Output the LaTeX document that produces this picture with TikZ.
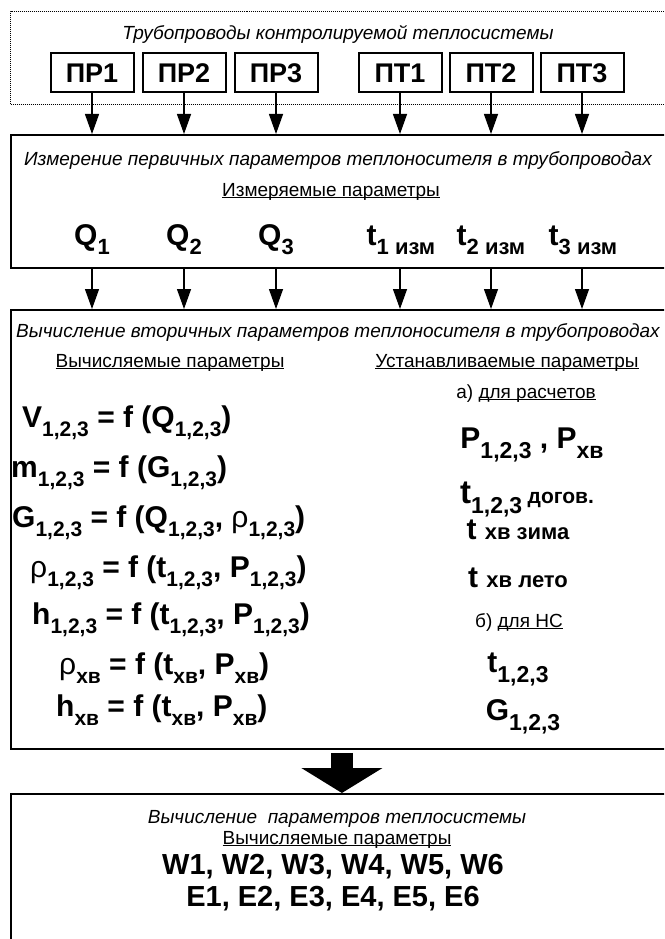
\documentclass[tikz,border=0pt]{standalone}
\usepackage{fontspec}
\setmainfont{Liberation Sans}
\usetikzlibrary{arrows.meta}
\newcommand\fsz[1]{\fontsize{#1}{#1}\selectfont}
\newcommand\ul[1]{\underline{\smash{#1}}}
% subscripts
\newcommand\fs[1]{\raisebox{-9pt}{\fsz{21}#1}}
\newcommand\qs[1]{\raisebox{-9pt}{\fsz{22}#1}}
\newcommand\ps[1]{\raisebox{-10pt}{\fsz{23}#1}}
\newcommand\rh{{\mdseries ρ}}
\begin{document}
\begin{tikzpicture}[x=1pt,y=-1pt,
  pbox/.style={draw,line width=2pt,minimum width=83pt,minimum height=39pt,inner sep=0pt,font=\bfseries\fsz{27}},
  bigbox/.style={draw,line width=1.8pt,inner sep=0pt,anchor=north west,minimum width=656pt},
  txt/.style={inner sep=0pt,anchor=base},
  ital/.style={txt,font=\itshape\fsz{19}},
  reg/.style={txt,font=\fsz{19}},
  frm/.style={inner sep=0pt,anchor=base west,font=\bfseries\fsz{30}},
  big/.style={txt,font=\bfseries\fsz{30}},
  arr/.style={line width=1.3pt,-{Triangle[length=20pt,width=14pt]}}]
\fill[white] (0,0) rectangle (664,939);
\useasboundingbox (0,0) rectangle (664,939);
\clip (0,0) rectangle (664,939);
% top dotted frame
\node[draw,densely dotted,line width=1pt,anchor=north west,minimum width=656pt,minimum height=93pt,inner sep=0pt] (pipes) at (10,11) {};
\node[ital] (ttop) at (338,40) {Трубопроводы контролируемой теплосистемы};
\node[pbox] (pr1) at (92,73) {ПР1};
\node[pbox] (pr2) at (184,73) {ПР2};
\node[pbox] (pr3) at (276,73) {ПР3};
\node[pbox] (pt1) at (400,73) {ПТ1};
\node[pbox] (pt2) at (491,73) {ПТ2};
\node[pbox] (pt3) at (582,73) {ПТ3};
% measurement box
\node[bigbox,minimum height=133pt] (meas) at (10,134) {};
\node[ital] (tmeas) at (338,165) {Измерение первичных параметров теплоносителя в трубопроводах};
\node[reg] (umeas) at (331,196) {\ul{Измеряемые параметры}};
\node[txt,font=\bfseries\fsz{30}] (q1) at (92,245) {Q\qs{1}};
\node[txt,font=\bfseries\fsz{30}] (q2) at (184,245) {Q\qs{2}};
\node[txt,font=\bfseries\fsz{30}] (q3) at (276,245) {Q\qs{3}};
\node[txt,font=\bfseries\fsz{30}] (t1) at (401,245) {t\qs{1 изм}};
\node[txt,font=\bfseries\fsz{30}] (t2) at (491,245) {t\qs{2 изм}};
\node[txt,font=\bfseries\fsz{30}] (t3) at (583,245) {t\qs{3 изм}};
% calculation box
\node[bigbox,minimum height=439pt] (calc) at (10,309) {};
\node[ital] (tcalc) at (338,337) {Вычисление вторичных параметров теплоносителя в трубопроводах};
\node[reg] (ucalc) at (170,367) {\ul{Вычисляемые параметры}};
\node[reg] (uset) at (507,367) {\ul{Устанавливаемые параметры}};
\node[reg] (ua) at (526,398) {а) \ul{для расчетов}};
\node[frm] (fV) at (22,427) {V\fs{1,2,3} = f (Q\fs{1,2,3})};
\node[frm] (fm) at (11,477) {m\fs{1,2,3} = f (G\fs{1,2,3})};
\node[frm] (fG) at (12,527) {G\fs{1,2,3} = f (Q\fs{1,2,3}, \rh\fs{1,2,3})};
\node[frm] (fr) at (30,577) {\rh\fs{1,2,3} = f (t\fs{1,2,3}, P\fs{1,2,3})};
\node[frm] (fh) at (32,624) {h\fs{1,2,3} = f (t\fs{1,2,3}, P\fs{1,2,3})};
\node[frm] (frx) at (59,674) {\rh\fs{хв} = f (t\fs{хв}, P\fs{хв})};
\node[frm] (fhx) at (56,716) {h\fs{хв} = f (t\fs{хв}, P\fs{хв})};
\node[big] (sP) at (532,448) {P\ps{1,2,3} , P\ps{хв}};
\node[txt,font=\bfseries\fsz{33}] (sT) at (527,503) {t\ps{1,2,3}\,{\fsz{21}догов.}};
\node[big] (sW) at (518,539) {t {\fsz{22}хв зима}};
\node[big] (sS) at (518,587) {t {\fsz{22}хв лето}};
\node[reg] (ub) at (519,627) {б) \ul{для НС}};
\node[big] (st) at (518,672) {t\ps{1,2,3}};
\node[big] (sG) at (523,720) {G\ps{1,2,3}};
% final box
\node[bigbox,minimum height=150pt] (final) at (10,793) {};
\node[ital] (tfin) at (337,823) {Вычисление\ \ параметров теплосистемы};
\node[reg] (ufin) at (337,844) {\ul{Вычисляемые параметры}};
\node[txt,font=\bfseries\fsz{29}] (wrow) at (333,874) {W1, W2, W3, W4, W5, W6};
\node[txt,font=\bfseries\fsz{29}] (erow) at (333,906) {E1, E2, E3, E4, E5, E6};
% arrows
\foreach \n in {pr1,pr2,pr3,pt1,pt2,pt3}{
  \draw[arr] (\n.south) -- (\n.south |- meas.north);
  \draw[arr] (\n |- meas.south) -- (\n |- calc.north);
}
\draw[line width=22pt,-{Triangle[length=25pt,width=80pt]},shorten <=3pt] ([xshift=3pt]calc.south) -- ([xshift=3pt]final.north);
\end{tikzpicture}
\end{document}
